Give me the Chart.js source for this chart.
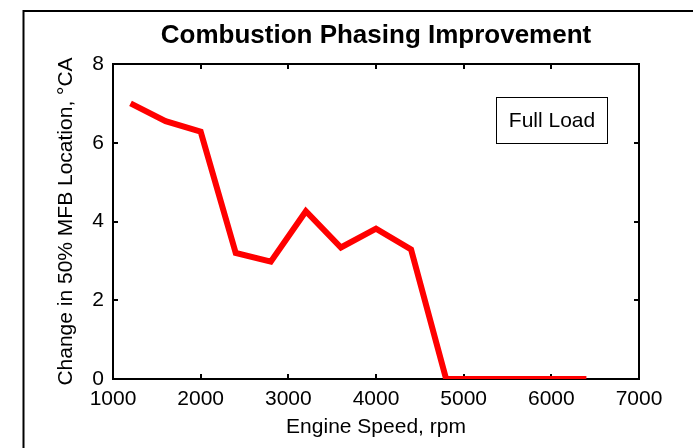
<!DOCTYPE html>
<html>
<head>
<meta charset="utf-8">
<title>Combustion Phasing Improvement</title>
<script src="https://cdn.jsdelivr.net/npm/chart.js@4/dist/chart.umd.min.js"></script>
<style>
  body { margin: 0; background: #fff; }
  canvas { display: block; }
</style>
</head>
<body>
<canvas id="phasing-chart" width="693" height="448"></canvas>
<script>
'use strict';

var engineSpeed = [1200, 1600, 2000, 2400, 2800, 3200, 3600, 4000, 4400, 4800, 5200, 5600, 6000, 6400];
var mfbChange = [7.0, 6.55, 6.28, 3.2, 2.98, 4.26, 3.34, 3.82, 3.29, 0, 0, 0, 0, 0];
var xRange = [1000, 7000];
var yRange = [0, 8];
var xStep = 1000;
var yStep = 2;
var noteText = 'Full Load';

var fontFamily = '"Liberation Sans", Arial, Helvetica, sans-serif';

(function () {

  // matlab style frame: outer figure border, axes box, inward ticks
  var framePlugin = {
    id: 'frame',
    beforeDatasetsDraw: function (chart) {
      var ctx = chart.ctx;
      var area = chart.chartArea;
      var xs = chart.scales.x;
      var ys = chart.scales.y;
      var tick = 5;

      ctx.save();
      ctx.strokeStyle = '#000';
      ctx.lineWidth = 2;

      // figure border (runs off the right and bottom edges)
      ctx.beginPath();
      ctx.moveTo(23.5, chart.height + 5);
      ctx.lineTo(23.5, 11);
      ctx.lineTo(chart.width + 5, 11);
      ctx.stroke();

      ctx.strokeRect(area.left, area.top, area.right - area.left, area.bottom - area.top);

      ctx.beginPath();
      xs.ticks.forEach(function (t) {
        if (t.value <= xRange[0] || t.value >= xRange[1]) return;
        var px = Math.round(xs.getPixelForValue(t.value));
        ctx.moveTo(px, area.bottom);
        ctx.lineTo(px, area.bottom - tick);
        ctx.moveTo(px, area.top);
        ctx.lineTo(px, area.top + tick);
      });
      ys.ticks.forEach(function (t) {
        if (t.value <= yRange[0] || t.value >= yRange[1]) return;
        var py = Math.round(ys.getPixelForValue(t.value));
        ctx.moveTo(area.left, py);
        ctx.lineTo(area.left + tick, py);
        ctx.moveTo(area.right, py);
        ctx.lineTo(area.right - tick, py);
      });
      ctx.stroke();
      ctx.restore();
    },
    afterDraw: function (chart) {
      // text box in the upper right of the axes
      var ctx = chart.ctx;
      var bx = 496.5, by = 97.5, bw = 111, bh = 46;
      ctx.save();
      ctx.fillStyle = '#fff';
      ctx.fillRect(bx, by, bw, bh);
      ctx.strokeStyle = '#000';
      ctx.lineWidth = 1;
      ctx.strokeRect(bx, by, bw, bh);
      ctx.fillStyle = '#000';
      ctx.font = '21px ' + fontFamily;
      ctx.textAlign = 'center';
      ctx.textBaseline = 'middle';
      ctx.fillText(noteText, bx + bw / 2, by + bh / 2 + 1);
      ctx.restore();
    }
  };

  var ctx = document.getElementById('phasing-chart');
  var myChart = new Chart(ctx, {
    type: 'line',
    data: {
      datasets: [{
        label: noteText,
        data: engineSpeed.map(function (s, i) { return { x: s, y: mfbChange[i] }; }),
        borderColor: '#ff0000',
        backgroundColor: '#ff0000',
        borderWidth: 6,
        borderJoinStyle: 'miter',
        borderCapStyle: 'butt',
        pointRadius: 0,
        tension: 0,
        fill: false
      }]
    },
    options: {
      responsive: false,
      animation: false,
      layout: {
        padding: { left: 0, right: 54, top: 0, bottom: 0 }
      },
      plugins: {
        legend: { display: false },
        tooltip: { enabled: false },
        title: {
          display: true,
          text: 'Combustion Phasing Improvement',
          fullSize: false,
          color: '#000',
          font: { family: fontFamily, size: 26, weight: 'bold' },
          padding: { top: 20, bottom: 12.8 }
        }
      },
      scales: {
        x: {
          type: 'linear',
          min: xRange[0],
          max: xRange[1],
          grid: { display: false, drawTicks: false },
          border: { display: false },
          ticks: {
            stepSize: xStep,
            padding: 8,
            color: '#000',
            maxRotation: 0,
            font: { family: fontFamily, size: 21 },
            callback: function (v) { return String(v); }
          },
          title: {
            display: true,
            text: 'Engine Speed, rpm',
            color: '#000',
            font: { family: fontFamily, size: 21 },
            padding: { top: 0, bottom: 8.4 }
          },
          afterFit: function (scale) { scale.height = 69; }
        },
        y: {
          type: 'linear',
          min: yRange[0],
          max: yRange[1],
          grid: { display: false, drawTicks: false },
          border: { display: false },
          ticks: {
            stepSize: yStep,
            padding: 9,
            color: '#000',
            font: { family: fontFamily, size: 21 },
            callback: function (v) { return String(v); }
          },
          title: {
            display: true,
            text: 'Change in 50% MFB Location, \u00B0CA',
            color: '#000',
            font: { family: fontFamily, size: 21 },
            padding: { top: 54, bottom: 0 }
          },
          afterFit: function (scale) { scale.width = 113; }
        }
      }
    },
    plugins: [framePlugin]
  });
})();
</script>
</body>
</html>
